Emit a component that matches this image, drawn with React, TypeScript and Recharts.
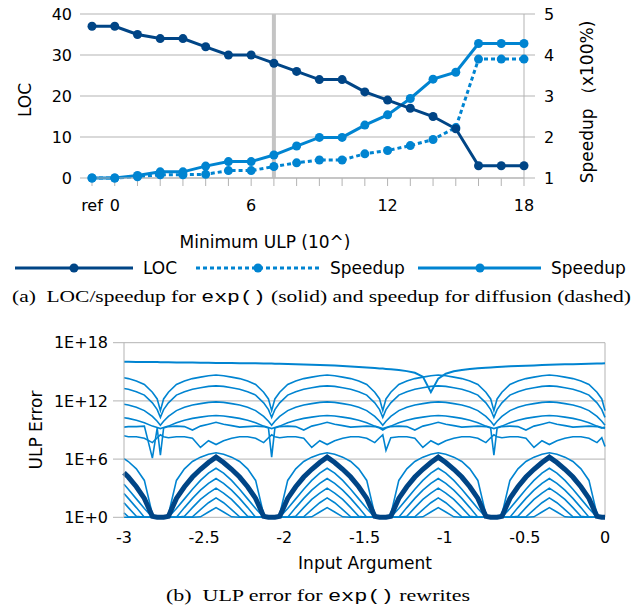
import React from 'react';
import { LineChart, Line, XAxis, YAxis, CartesianGrid, ReferenceLine } from 'recharts';

const NAVY = '#004586';
const BLUE = '#0084d1';
const GRID = '#b3b3b3';
const SANS = '"DejaVu Sans", sans-serif';
const SERIF = '"Liberation Serif", "Times New Roman", serif';
const MONO = '"Liberation Mono", "Courier New", monospace';

// ---------- (a) LOC / speedup ----------
const ulpCategories = ['ref', '0', '1', '2', '3', '4', '5', '6', '7', '8', '9', '10', '11', '12', '13', '14', '15', '16', '17', '18'];
const labelledCategories = ['ref', '0', '6', '12', '18'];
const markedCategory = '7';
const locValues = [37, 37, 35, 34, 34, 32, 30, 30, 28, 26, 24, 24, 21, 19, 17, 15, 12, 3, 3, 3];
const expSpeedup = [1.0, 1.0, 1.06, 1.15, 1.15, 1.29, 1.4, 1.4, 1.56, 1.78, 1.99, 1.99, 2.29, 2.54, 2.94, 3.41, 3.58, 4.28, 4.28, 4.28];
const diffusionSpeedup = [1.0, 1.0, 1.03, 1.08, 1.08, 1.09, 1.18, 1.18, 1.28, 1.37, 1.44, 1.44, 1.59, 1.67, 1.79, 1.94, 2.23, 3.9, 3.9, 3.9];
const locTicks = [0, 10, 20, 30, 40];
const speedupTicks = [1, 2, 3, 4, 5];

const topData = ulpCategories.map((cat, i) => ({
  cat,
  loc: locValues[i],
  exp: expSpeedup[i],
  diff: diffusionSpeedup[i],
}));

// ---------- (b) ULP error (log10 of error) ----------
const inputArgs = [
  -3.0, -2.973, -2.923, -2.873, -2.823, -2.793, -2.773, -2.753, -2.723, -2.673, -2.623, -2.573, -2.523, -2.473,
  -2.426, -2.379, -2.329, -2.279, -2.229, -2.179, -2.129, -2.099, -2.079, -2.059, -2.029, -1.979, -1.929, -1.879, -1.829, -1.779,
  -1.733, -1.686, -1.636, -1.586, -1.536, -1.486, -1.436, -1.406, -1.386, -1.366, -1.336, -1.286, -1.236, -1.186, -1.136, -1.086,
  -1.04, -0.993, -0.943, -0.893, -0.843, -0.793, -0.743, -0.713, -0.693, -0.673, -0.643, -0.593, -0.543, -0.493, -0.443, -0.393,
  -0.347, -0.3, -0.25, -0.2, -0.15, -0.1, -0.05, -0.02, 0.0,
];
const errorTicks = [0, 6, 12, 18];
const argTicks = [-3, -2.5, -2, -1.5, -1, -0.5, 0];

const errTop = [
  16.04, 16.03, 16.02, 16.01, 16.0, 16.0, 15.99, 15.99, 15.98, 15.97, 15.96, 15.95, 15.94, 15.93,
  15.92, 15.91, 15.9, 15.89, 15.88, 15.87, 15.86, 15.85, 15.85, 15.84, 15.83, 15.81, 15.79, 15.76, 15.73, 15.7,
  15.67, 15.64, 15.6, 15.55, 15.5, 15.45, 15.39, 15.35, 15.33, 15.3, 15.26, 15.18, 15.07, 14.9, 14.5, 12.9,
  14.3, 14.8, 15.05, 15.18, 15.28, 15.36, 15.42, 15.45, 15.47, 15.49, 15.52, 15.56, 15.6, 15.63, 15.66, 15.69,
  15.72, 15.74, 15.77, 15.79, 15.81, 15.83, 15.85, 15.86, 15.87,
];
const errA1 = [
  14.38, 14.3, 14.05, 13.7, 12.9, 12.2, 11.0, 12.2, 12.9, 13.7, 14.05, 14.3, 14.45, 14.6,
  14.67, 14.6, 14.45, 14.3, 14.05, 13.7, 12.9, 12.2, 11.0, 12.2, 12.9, 13.7, 14.05, 14.3, 14.45, 14.6,
  14.67, 14.6, 14.45, 14.3, 14.05, 13.7, 12.9, 12.2, 11.0, 12.2, 12.9, 13.7, 14.05, 14.3, 14.45, 14.6,
  14.67, 14.6, 14.45, 14.3, 14.05, 13.7, 12.9, 12.2, 11.0, 12.2, 12.9, 13.7, 14.05, 14.3, 14.45, 14.6,
  14.67, 14.6, 14.45, 14.3, 14.05, 13.7, 12.9, 12.2, 11.0,
];
const errA2 = [
  13.28, 13.2, 12.95, 12.6, 11.8, 11.1, 10.3, 11.1, 11.8, 12.6, 12.95, 13.2, 13.35, 13.5,
  13.55, 13.5, 13.35, 13.2, 12.95, 12.6, 11.8, 11.1, 10.3, 11.1, 11.8, 12.6, 12.95, 13.2, 13.35, 13.5,
  13.55, 13.5, 13.35, 13.2, 12.95, 12.6, 11.8, 11.1, 10.3, 11.1, 11.8, 12.6, 12.95, 13.2, 13.35, 13.5,
  13.55, 13.5, 13.35, 13.2, 12.95, 12.6, 11.8, 11.1, 10.3, 11.1, 11.8, 12.6, 12.95, 13.2, 13.35, 13.5,
  13.55, 13.5, 13.35, 13.2, 12.95, 12.6, 11.8, 11.1, 10.3,
];
const errA3 = [
  11.65, 11.58, 11.35, 11.0, 10.4, 9.9, 9.5, 9.9, 10.4, 11.0, 11.35, 11.58, 11.72, 11.85,
  11.9, 11.85, 11.72, 11.58, 11.35, 11.0, 10.4, 9.9, 9.5, 9.9, 10.4, 11.0, 11.35, 11.58, 11.72, 11.85,
  11.9, 11.85, 11.72, 11.58, 11.35, 11.0, 10.4, 9.9, 9.5, 9.9, 10.4, 11.0, 11.35, 11.58, 11.72, 11.85,
  11.9, 11.85, 11.72, 11.58, 11.35, 11.0, 10.4, 9.9, 9.5, 9.9, 10.4, 11.0, 11.35, 11.58, 11.72, 11.85,
  11.9, 11.85, 11.72, 11.58, 11.35, 11.0, 10.4, 9.9, 9.5,
];
const errA4 = [
  10.27, 10.2, 10.0, 9.75, 9.4, 9.25, 9.15, 9.25, 9.4, 9.75, 10.0, 10.2, 10.33, 10.45,
  10.5, 10.45, 10.33, 10.2, 10.0, 9.75, 9.4, 9.25, 9.15, 9.25, 9.4, 9.75, 10.0, 10.2, 10.33, 10.45,
  10.5, 10.45, 10.33, 10.2, 10.0, 9.75, 9.4, 9.25, 9.15, 9.25, 9.4, 9.75, 10.0, 10.2, 10.33, 10.45,
  10.5, 10.45, 10.33, 10.2, 10.0, 9.75, 9.4, 9.25, 9.15, 9.25, 9.4, 9.75, 10.0, 10.2, 10.33, 10.45,
  10.5, 10.45, 10.33, 10.2, 10.0, 9.75, 9.4, 9.25, 9.15,
];
const errB1 = [
  9.3, 9.35, 9.35, 9.4, 6.1, 9.2, 6.4, 9.2, 9.35, 9.4, 9.35, 9.0, 9.4, 9.6,
  9.8, 9.6, 9.45, 9.3, 9.35, 9.4, 9.35, 9.2, 6.2, 9.2, 9.35, 9.4, 9.35, 9.0, 9.4, 9.6,
  9.8, 9.6, 9.45, 9.3, 9.35, 9.4, 9.35, 9.2, 9.0, 9.2, 9.35, 9.4, 9.35, 9.0, 9.4, 9.6,
  9.8, 9.6, 9.45, 9.3, 9.35, 9.4, 9.35, 9.2, 6.4, 9.2, 9.35, 9.4, 9.35, 9.0, 9.4, 9.6,
  9.8, 9.6, 9.45, 9.3, 9.35, 9.4, 9.35, 9.2, 9.3,
];
const errB2 = [
  8.4, 8.3, 8.3, 8.15, 7.7, 8.2, 8.5, 8.3, 8.2, 8.3, 8.3, 8.15, 7.2, 7.9,
  7.5, 7.9, 8.15, 8.3, 8.3, 8.15, 7.7, 8.2, 8.5, 8.3, 8.2, 8.3, 8.3, 8.15, 7.2, 7.9,
  7.5, 7.9, 8.15, 8.3, 8.3, 8.15, 7.7, 8.2, 8.5, 6.9, 8.2, 8.3, 8.3, 8.15, 7.2, 7.9,
  7.5, 7.9, 8.15, 8.3, 8.3, 8.15, 7.7, 8.2, 8.5, 8.3, 8.2, 8.3, 8.3, 8.15, 7.2, 7.9,
  7.5, 7.9, 8.15, 8.3, 8.3, 8.15, 7.7, 8.2, 7.3,
];
const errOuter = [
  6.05, 5.75, 5.0, 3.8, 0.3, 0, 0, 0, 0.3, 3.8, 5.0, 5.75, 6.2, 6.5,
  6.65, 6.5, 6.2, 5.75, 5.0, 3.8, 0.3, 0, 0, 0, 0.3, 3.8, 5.0, 5.75, 6.2, 6.5,
  6.65, 6.5, 6.2, 5.75, 5.0, 3.8, 0.3, 0, 0, 0, 0.3, 3.8, 5.0, 5.75, 6.2, 6.5,
  6.65, 6.5, 6.2, 5.75, 5.0, 3.8, 0.3, 0, 0, 0, 0.3, 3.8, 5.0, 5.75, 6.2, 6.5,
  6.65, 6.5, 6.2, 5.75, 5.0, 3.8, 0.3, 0, 0,
];
const errNavy = [
  4.6, 4.15, 3.15, 1.95, 0.1, 0, 0, 0, 0.1, 1.95, 3.15, 4.15, 4.95, 5.65,
  6.2, 5.65, 4.95, 4.15, 3.15, 1.95, 0.1, 0, 0, 0, 0.1, 1.95, 3.15, 4.15, 4.95, 5.65,
  6.2, 5.65, 4.95, 4.15, 3.15, 1.95, 0.1, 0, 0, 0, 0.1, 1.95, 3.15, 4.15, 4.95, 5.65,
  6.2, 5.65, 4.95, 4.15, 3.15, 1.95, 0.1, 0, 0, 0, 0.1, 1.95, 3.15, 4.15, 4.95, 5.65,
  6.2, 5.65, 4.95, 4.15, 3.15, 1.95, 0.1, 0, 0,
];
const errI1 = [
  3.4, 2.9, 1.9, 0.9, 0, 0, 0, 0, 0, 0.9, 1.9, 2.9, 3.8, 4.55,
  5.05, 4.55, 3.8, 2.9, 1.9, 0.9, 0, 0, 0, 0, 0, 0.9, 1.9, 2.9, 3.8, 4.55,
  5.05, 4.55, 3.8, 2.9, 1.9, 0.9, 0, 0, 0, 0, 0, 0.9, 1.9, 2.9, 3.8, 4.55,
  5.05, 4.55, 3.8, 2.9, 1.9, 0.9, 0, 0, 0, 0, 0, 0.9, 1.9, 2.9, 3.8, 4.55,
  5.05, 4.55, 3.8, 2.9, 1.9, 0.9, 0, 0, 0,
];
const errI2 = [
  2.45, 1.95, 1.0, 0, 0, 0, 0, 0, 0, 0, 1.0, 1.95, 2.8, 3.5,
  4.0, 3.5, 2.8, 1.95, 1.0, 0, 0, 0, 0, 0, 0, 0, 1.0, 1.95, 2.8, 3.5,
  4.0, 3.5, 2.8, 1.95, 1.0, 0, 0, 0, 0, 0, 0, 0, 1.0, 1.95, 2.8, 3.5,
  4.0, 3.5, 2.8, 1.95, 1.0, 0, 0, 0, 0, 0, 0, 0, 1.0, 1.95, 2.8, 3.5,
  4.0, 3.5, 2.8, 1.95, 1.0, 0, 0, 0, 0,
];
const errI3 = [
  1.5, 1.0, 0.1, 0, 0, 0, 0, 0, 0, 0, 0.1, 1.0, 1.85, 2.5,
  3.0, 2.5, 1.85, 1.0, 0.1, 0, 0, 0, 0, 0, 0, 0, 0.1, 1.0, 1.85, 2.5,
  3.0, 2.5, 1.85, 1.0, 0.1, 0, 0, 0, 0, 0, 0, 0, 0.1, 1.0, 1.85, 2.5,
  3.0, 2.5, 1.85, 1.0, 0.1, 0, 0, 0, 0, 0, 0, 0, 0.1, 1.0, 1.85, 2.5,
  3.0, 2.5, 1.85, 1.0, 0.1, 0, 0, 0, 0,
];
const errI4 = [
  0.45, 0.05, 0, 0, 0, 0, 0, 0, 0, 0, 0, 0.05, 0.8, 1.5,
  2.0, 1.5, 0.8, 0.05, 0, 0, 0, 0, 0, 0, 0, 0, 0, 0.05, 0.8, 1.5,
  2.0, 1.5, 0.8, 0.05, 0, 0, 0, 0, 0, 0, 0, 0, 0, 0.05, 0.8, 1.5,
  2.0, 1.5, 0.8, 0.05, 0, 0, 0, 0, 0, 0, 0, 0, 0, 0.05, 0.8, 1.5,
  2.0, 1.5, 0.8, 0.05, 0, 0, 0, 0, 0,
];
const errI5 = [
  0, 0, 0, 0, 0, 0, 0, 0, 0, 0, 0, 0, 0.05, 0.55,
  1.0, 0.55, 0.05, 0, 0, 0, 0, 0, 0, 0, 0, 0, 0, 0, 0.05, 0.55,
  1.0, 0.55, 0.05, 0, 0, 0, 0, 0, 0, 0, 0, 0, 0, 0, 0.05, 0.55,
  1.0, 0.55, 0.05, 0, 0, 0, 0, 0, 0, 0, 0, 0, 0, 0, 0.05, 0.55,
  1.0, 0.55, 0.05, 0, 0, 0, 0, 0, 0,
];

const bottomSeries = [
  { key: 'top', values: errTop, color: BLUE, width: 2 },
  { key: 'a1', values: errA1, color: BLUE, width: 1.6 },
  { key: 'a2', values: errA2, color: BLUE, width: 1.6 },
  { key: 'a3', values: errA3, color: BLUE, width: 1.6 },
  { key: 'a4', values: errA4, color: BLUE, width: 1.6 },
  { key: 'b1', values: errB1, color: BLUE, width: 1.6 },
  { key: 'b2', values: errB2, color: BLUE, width: 1.6 },
  { key: 'i5', values: errI5, color: BLUE, width: 1.6 },
  { key: 'i4', values: errI4, color: BLUE, width: 1.6 },
  { key: 'i3', values: errI3, color: BLUE, width: 1.6 },
  { key: 'i2', values: errI2, color: BLUE, width: 1.6 },
  { key: 'i1', values: errI1, color: BLUE, width: 1.6 },
  { key: 'outer', values: errOuter, color: BLUE, width: 1.6 },
  { key: 'navy', values: errNavy, color: NAVY, width: 5 },
];

const bottomData = inputArgs.map((x, i) => {
  const row: Record<string, number> = { x };
  bottomSeries.forEach((s) => {
    row[s.key] = s.values[i];
  });
  return row;
});

const tickStyle = { fill: '#000', fontSize: 16, fontFamily: SANS };

function Overlay() {
  return (
    <svg width={642} height={613} style={{ position: 'absolute', left: 0, top: 0, pointerEvents: 'none' }}>
      <g fontFamily={SANS} fontSize={17} fill="#000">
        <text transform="translate(25,100) rotate(-90)" textAnchor="middle" dy="0.355em">LOC</text>
        <text transform="translate(587,102) rotate(-90)" textAnchor="middle" dy="0.355em">Speedup （x100%)</text>
        <text x={265} y={242} textAnchor="middle" dy="0.355em">Minimum ULP (10^)</text>
        {/* legend */}
        <line x1={15} y1={268} x2={133} y2={268} stroke={NAVY} strokeWidth={3} />
        <circle cx={74} cy={268} r={4.5} fill={NAVY} />
        <text x={143} y={268} dy="0.355em">LOC</text>
        <line x1={196} y1={268} x2={320} y2={268} stroke={BLUE} strokeWidth={3} strokeDasharray="4 3" />
        <circle cx={258} cy={268} r={4.5} fill={BLUE} />
        <text x={330} y={268} dy="0.355em">Speedup</text>
        <line x1={418} y1={268} x2={541} y2={268} stroke={BLUE} strokeWidth={3} />
        <circle cx={480} cy={268} r={4.5} fill={BLUE} />
        <text x={551} y={268} dy="0.355em">Speedup</text>
        {/* bottom chart titles */}
        <text transform="translate(36,430) rotate(-90)" textAnchor="middle" dy="0.355em">ULP Error</text>
        <text x={365} y={563} textAnchor="middle" dy="0.355em">Input Argument</text>
      </g>
      <text x={12} y={302} fontFamily={SERIF} fontSize={16} fill="#000" textLength={619} lengthAdjust="spacingAndGlyphs">
        {'(a)\u00a0 LOC/speedup for '}
        <tspan fontFamily={MONO}>{'exp()'}</tspan>
        {' (solid) and speedup for diffusion (dashed)'}
      </text>
      <text x={166} y={601} fontFamily={SERIF} fontSize={16} fill="#000" textLength={304} lengthAdjust="spacingAndGlyphs">
        {'(b)\u00a0 ULP error for '}
        <tspan fontFamily={MONO}>{'exp()'}</tspan>
        {' rewrites'}
      </text>
    </svg>
  );
}

export default function App() {
  return (
    <div style={{ position: 'absolute', left: 0, top: 0, width: 642, height: 613, background: '#fff' }}>
      <div style={{ position: 'absolute', left: 0, top: 0 }}>
        <LineChart width={642} height={230} data={topData} margin={{ top: 14, right: 0, bottom: 22, left: 0 }}>
          <CartesianGrid yAxisId="left" vertical={false} stroke={GRID} />
          <XAxis
            dataKey="cat"
            interval={0}
            height={30}
            tickSize={8}
            tickMargin={14}
            axisLine={{ stroke: GRID }}
            tickLine={{ stroke: GRID }}
            tick={tickStyle}
            tickFormatter={(v: string) => (labelledCategories.includes(v) ? v : '')}
          />
          <YAxis
            yAxisId="left"
            width={92}
            domain={[0, 40]}
            ticks={locTicks}
            axisLine={false}
            tickLine={{ stroke: GRID }}
            tickSize={12}
            tickMargin={8}
            tick={tickStyle}
          />
          <YAxis
            yAxisId="right"
            orientation="right"
            width={118}
            domain={[1, 5]}
            ticks={speedupTicks}
            axisLine={{ stroke: GRID }}
            tickLine={{ stroke: GRID }}
            tickSize={11}
            tickMargin={9}
            tick={tickStyle}
          />
          <ReferenceLine yAxisId="left" x={markedCategory} stroke="#c4c4c4" strokeWidth={4} />
          <Line
            yAxisId="right"
            type="linear"
            dataKey="diff"
            stroke={BLUE}
            strokeWidth={3}
            strokeDasharray="4 3"
            dot={{ r: 4.5, fill: BLUE, stroke: BLUE, strokeWidth: 0 }}
            isAnimationActive={false}
          />
          <Line
            yAxisId="right"
            type="linear"
            dataKey="exp"
            stroke={BLUE}
            strokeWidth={3}
            dot={{ r: 4.5, fill: BLUE, stroke: BLUE, strokeWidth: 0 }}
            isAnimationActive={false}
          />
          <Line
            yAxisId="left"
            type="linear"
            dataKey="loc"
            stroke={NAVY}
            strokeWidth={3}
            dot={{ r: 4.5, fill: NAVY, stroke: NAVY, strokeWidth: 0 }}
            isAnimationActive={false}
          />
        </LineChart>
      </div>
      <div style={{ position: 'absolute', left: 0, top: 320 }}>
        <LineChart width={642} height={260} data={bottomData} margin={{ top: 22.7, right: 37, bottom: 32.7, left: 0 }}>
          <CartesianGrid vertical={false} stroke={GRID} />
          <XAxis
            dataKey="x"
            type="number"
            domain={[-3, 0]}
            ticks={argTicks}
            height={30}
            axisLine={false}
            tickLine={false}
            tickSize={6}
            tickMargin={8}
            tick={tickStyle}
            tickFormatter={(v: number) => String(v)}
          />
          <YAxis
            width={124}
            domain={[0, 18]}
            ticks={errorTicks}
            axisLine={{ stroke: GRID }}
            tickLine={{ stroke: GRID }}
            tickSize={11}
            tickMargin={5}
            tick={tickStyle}
            tickFormatter={(v: number) => `1E+${v}`}
          />
          <ReferenceLine x={0} stroke={GRID} />
          {bottomSeries.map((s) => (
            <Line
              key={s.key}
              type="linear"
              dataKey={s.key}
              stroke={s.color}
              strokeWidth={s.width}
              dot={false}
              isAnimationActive={false}
            />
          ))}
        </LineChart>
      </div>
      <Overlay />
    </div>
  );
}
